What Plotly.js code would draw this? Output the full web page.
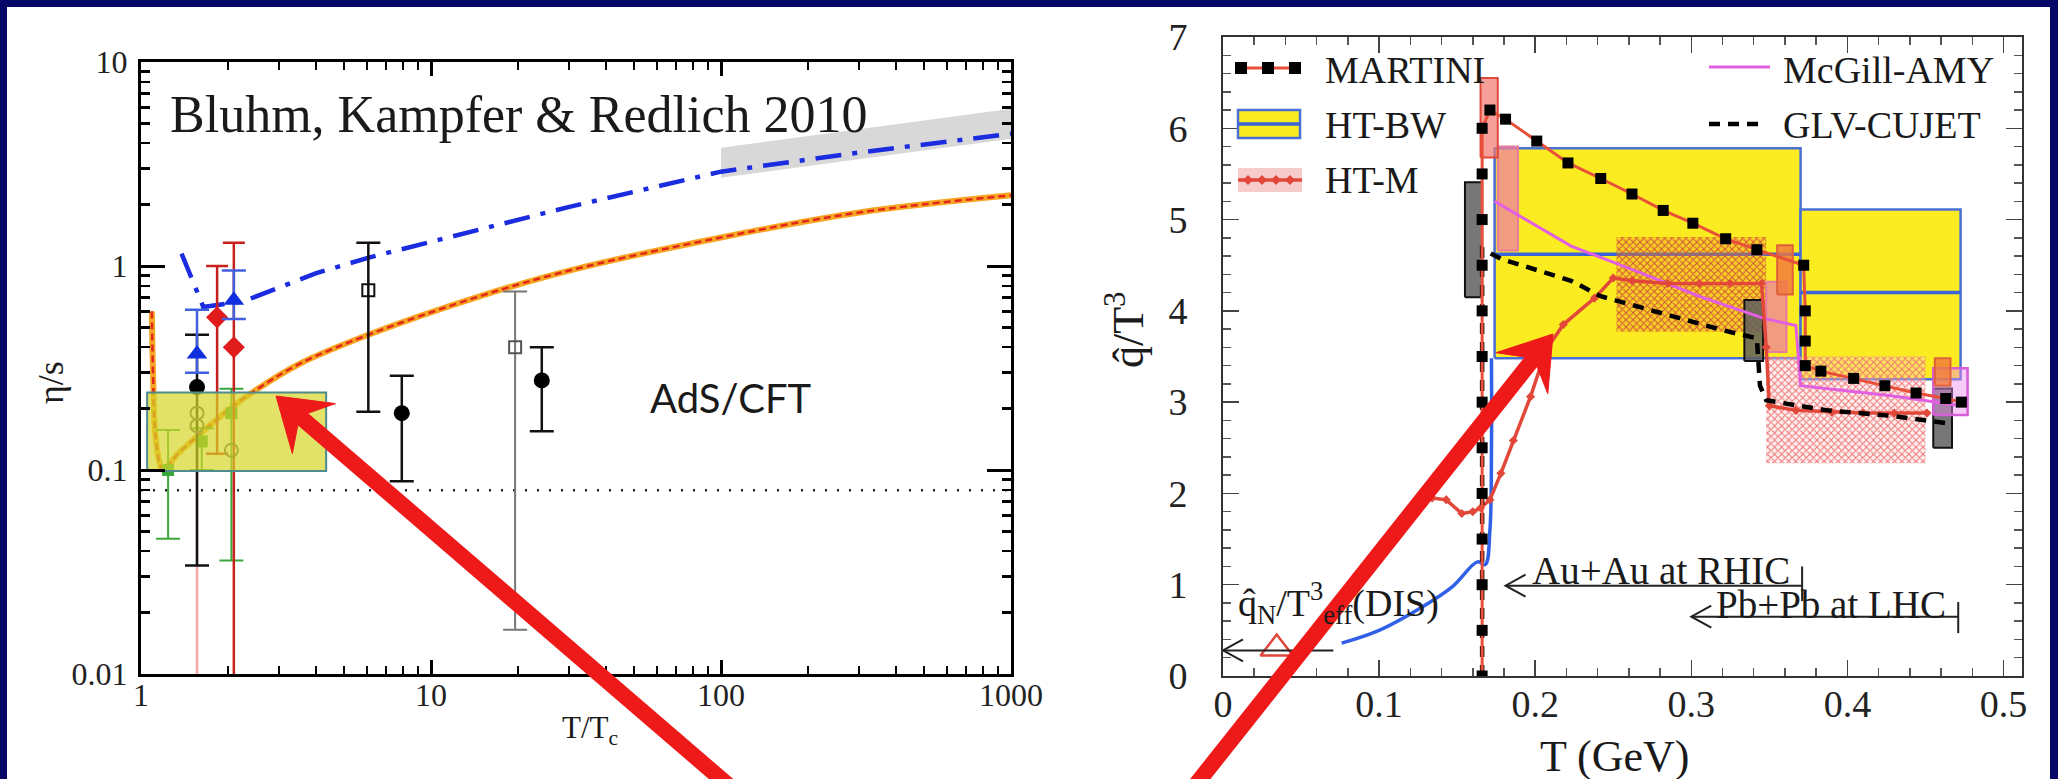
<!DOCTYPE html>
<html>
<head>
<meta charset="utf-8">
<script src="https://cdn.plot.ly/plotly-3.0.1.min.js"></script>
<style>
  html, body { margin: 0; padding: 0; background: #ffffff; }
  #chart { width: 2058px; height: 779px; }
</style>
</head>
<body>
<div id="chart"></div>
<script>
// ---------------- left panel: eta/s versus T/Tc ----------------
const ratioTicks = [1, 10, 100, 1000];
const ratioTickText = ['1', '10', '100', '1000'];
const etasTicks = [0.01, 0.1, 1, 10];
const etasTickText = ['0.01', '0.1', '1', '10'];

// quasi-particle model curve
const bkrT = [1.09, 1.10, 1.12, 1.16, 1.19, 1.34, 1.56, 2.03, 2.44, 3.5, 6.08, 14.7, 30, 100, 300, 1000];
const bkrEtas = [0.60, 0.30, 0.15, 0.108, 0.100, 0.120, 0.146, 0.200, 0.242, 0.33, 0.46, 0.71, 0.95, 1.38, 1.83, 2.22];

// perturbative estimate (dash-dot)
const pqcdT = [1.38, 1.64, 2.25, 4.0, 6.1, 14.4, 30, 100, 300, 1000];
const pqcdEtas = [1.15, 0.63, 0.67, 0.92, 1.1, 1.5, 1.95, 2.9, 3.6, 4.45];

// grey band at high temperature
const bandT = [100, 1000];
const bandLow = [2.71, 4.2];
const bandHigh = [3.8, 5.9];

// KSS bound 1/(4 pi)
const kssBound = 0.0796;

// AdS/CFT inspired region
const adsT = [1.05, 4.35];
const adsEtas = [0.099, 0.24];

// lattice / model points with error bars
const blackT = [1.56, 7.93, 24.1];
const blackEtas = [0.255, 0.19, 0.275];
const blackHi = [0.46, 0.29, 0.40];
const blackLo = [0.034, 0.088, 0.155];

const squareT = [6.08];
const squareEtas = [0.76];
const squareHi = [1.3];
const squareLo = [0.193];

const greySquareT = [19.5];
const greySquareEtas = [0.40];
const greySquareHi = [0.75];
const greySquareLo = [0.0165];

const triT = [1.56, 2.09];
const triEtas = [0.37, 0.68];
const triHi = [0.61, 0.95];
const triLo = [0.30, 0.55];

const diamondT = [1.83, 2.09];
const diamondEtas = [0.56, 0.40];
const diamondHi = [1.0, 1.3];
const diamondLo = [0.12, 0.005];

const greenT = [1.24, 1.62, 2.05];
const greenEtas = [0.10, 0.138, 0.19];
const greenHi = [0.157, 0.16, 0.25];
const greenLo = [0.046, 0.10, 0.036];

const openCircT = [1.56, 1.56, 2.05];
const openCircEtas = [0.19, 0.165, 0.125];

const pinkT = [1.56];
const pinkEtas = [0.2];
const pinkLo = [0.005];

// ---------------- right panel: qhat/T^3 versus T ----------------
const tempTicks = [0, 0.1, 0.2, 0.3, 0.4, 0.5];
const qTicks = [0, 1, 2, 3, 4, 5, 6, 7];

const martiniT = [0.166, 0.166, 0.166, 0.166, 0.166, 0.166, 0.166, 0.166, 0.166, 0.166, 0.166, 0.166, 0.166,
  0.171, 0.181, 0.201, 0.221, 0.242, 0.262, 0.282, 0.301, 0.322, 0.342, 0.372, 0.373, 0.373, 0.373,
  0.383, 0.404, 0.424, 0.444, 0.463, 0.473];
const martiniQ = [0, 0.5, 1.0, 1.5, 2.0, 2.5, 3.0, 3.5, 4.0, 4.5, 5.0, 5.5, 6.0,
  6.2, 6.1, 5.86, 5.62, 5.45, 5.28, 5.1, 4.96, 4.79, 4.67, 4.5, 4.0, 3.67, 3.4,
  3.34, 3.26, 3.18, 3.10, 3.04, 3.0];

const glvT = [0.166, 0.166, 0.178, 0.223, 0.242, 0.285, 0.322, 0.342, 0.344, 0.348, 0.387, 0.428, 0.463];
const glvQ = [0, 4.68, 4.57, 4.33, 4.16, 3.95, 3.78, 3.70, 3.18, 3.02, 2.91, 2.85, 2.77];

const amyT = [0.174, 0.182, 0.223, 0.264, 0.305, 0.346, 0.367, 0.370, 0.387, 0.428, 0.473];
const amyQ = [5.2, 5.12, 4.71, 4.44, 4.16, 3.92, 3.84, 3.18, 3.15, 3.07, 2.96];

const htmT = [0.134, 0.143, 0.153, 0.160, 0.165, 0.171, 0.178, 0.186, 0.197, 0.207, 0.218, 0.238, 0.250,
  0.262, 0.285, 0.305, 0.325, 0.345, 0.348, 0.350, 0.367, 0.39, 0.41, 0.43, 0.451];
const htmQ = [1.95, 1.93, 1.78, 1.80, 1.84, 1.93, 2.22, 2.58, 3.06, 3.57, 3.85, 4.14, 4.36,
  4.33, 4.30, 4.30, 4.30, 4.30, 3.60, 2.96, 2.91, 2.89, 2.88, 2.88, 2.88];

const htbwCurveT = [0.076, 0.100, 0.126, 0.147, 0.163, 0.168, 0.171, 0.172, 0.172];
const htbwCurveQ = [0.36, 0.50, 0.74, 0.98, 1.25, 1.22, 1.6, 2.5, 3.48];

// HT-BW bands (RHIC, LHC)
const htbwTlo = [0.174, 0.370];
const htbwThi = [0.370, 0.4725];
const htbwLow = [3.48, 3.25];
const htbwMid = [4.62, 4.20];
const htbwHigh = [5.78, 5.11];

// HT-M bands (RHIC, LHC)
const htmBandTlo = [0.252, 0.348];
const htmBandThi = [0.348, 0.450];
const htmBandLow = [3.77, 2.33];
const htmBandHigh = [4.81, 3.50];

// uncertainty boxes at the fit temperatures
const martiniBoxTlo = [0.165, 0.355, 0.456];
const martiniBoxThi = [0.176, 0.365, 0.466];
const martiniBoxLow = [5.68, 4.18, 3.18];
const martiniBoxHigh = [6.55, 4.72, 3.48];

const amyBoxTlo = [0.176, 0.348, 0.455];
const amyBoxThi = [0.189, 0.361, 0.477];
const amyBoxLow = [4.66, 3.55, 2.86];
const amyBoxHigh = [5.80, 4.32, 3.37];

const glvBoxTlo = [0.155, 0.334, 0.455];
const glvBoxThi = [0.166, 0.346, 0.467];
const glvBoxLow = [4.15, 3.45, 2.50];
const glvBoxHigh = [5.41, 4.12, 3.15];

// DIS reference point
const disT = [0.0344];
const disQ = [0.30];

// temperature reach of the two colliders and of DIS
const disRange = [0.0, 0.0707];
const rhicRange = [0.181, 0.371];
const lhcRange = [0.300, 0.471];

// ---------------- helpers ----------------
const W = 2058, H = 779;
const px = v => v / W;
const py = v => 1 - v / H;
const SERIF = 'Liberation Serif, Times New Roman, serif';

function rectPath(x0, x1, y0, y1) {
  return { x: [x0, x1, x1, x0, x0], y: [y0, y0, y1, y1, y0] };
}

const traces = [];
function addBox(x0, x1, y0, y1, opts, ax) {
  const r = rectPath(x0, x1, y0, y1);
  traces.push(Object.assign({
    x: r.x, y: r.y, mode: 'lines', fill: 'toself',
    xaxis: ax[0], yaxis: ax[1], hoverinfo: 'skip', showlegend: false
  }, opts));
}
function hiLo(vals, hi, lo) {
  return {
    type: 'data', symmetric: false,
    array: vals.map((v, i) => hi[i] - v),
    arrayminus: vals.map((v, i) => v - lo[i])
  };
}

const L = ['x', 'y'], R = ['x2', 'y2'];

// ---- left panel traces ----
traces.push({
  x: [bandT[0], bandT[1], bandT[1], bandT[0], bandT[0]],
  y: [bandLow[0], bandLow[1], bandHigh[1], bandHigh[0], bandLow[0]],
  mode: 'lines', fill: 'toself', fillcolor: '#d8d8d8', line: { width: 0 },
  xaxis: 'x', yaxis: 'y', hoverinfo: 'skip', showlegend: false
});
traces.push({
  x: [ratioTicks[0], ratioTicks[3]], y: [kssBound, kssBound], mode: 'lines',
  line: { color: '#222', width: 2.5, dash: '2px,10px' }, xaxis: 'x', yaxis: 'y', showlegend: false
});
traces.push({
  x: pqcdT, y: pqcdEtas, mode: 'lines', line: { color: '#1a2be0', width: 4.5, dash: '26px,11px,5px,11px' },
  xaxis: 'x', yaxis: 'y', showlegend: false
});
traces.push({
  x: bkrT, y: bkrEtas, mode: 'lines', line: { color: '#f6a623', width: 6, shape: 'spline' },
  xaxis: 'x', yaxis: 'y', showlegend: false
});
traces.push({
  x: bkrT, y: bkrEtas, mode: 'lines', line: { color: '#e3261c', width: 2.5, dash: '7px,4px', shape: 'spline' },
  xaxis: 'x', yaxis: 'y', showlegend: false
});
// error-bar points
traces.push({
  x: pinkT, y: pinkEtas, mode: 'markers', marker: { size: 1, color: '#f2a0a0' },
  error_y: Object.assign(hiLo(pinkEtas, pinkEtas, pinkLo), { color: '#f2a6a6', thickness: 2.5, width: 0 }),
  xaxis: 'x', yaxis: 'y', showlegend: false
});
traces.push({
  x: greenT, y: greenEtas, mode: 'markers',
  marker: { symbol: 'square', size: 12, color: '#3aa83a' },
  error_y: Object.assign(hiLo(greenEtas, greenHi, greenLo), { color: '#3aa83a', thickness: 2, width: 12 }),
  xaxis: 'x', yaxis: 'y', showlegend: false
});
traces.push({
  x: diamondT, y: diamondEtas, mode: 'markers',
  marker: { symbol: 'diamond', size: 17, color: '#e01b1b' },
  error_y: Object.assign(hiLo(diamondEtas, diamondHi, diamondLo), { color: '#c8201c', thickness: 2.5, width: 11 }),
  xaxis: 'x', yaxis: 'y', showlegend: false
});
traces.push({
  x: blackT, y: blackEtas, mode: 'markers',
  marker: { symbol: 'circle', size: 16, color: '#000' },
  error_y: Object.assign(hiLo(blackEtas, blackHi, blackLo), { color: '#111', thickness: 2.5, width: 12 }),
  xaxis: 'x', yaxis: 'y', showlegend: false
});
traces.push({
  x: triT, y: triEtas, mode: 'markers',
  marker: { symbol: 'triangle-up', size: 18, color: '#1030e0' },
  error_y: Object.assign(hiLo(triEtas, triHi, triLo), { color: '#4060e0', thickness: 2.5, width: 12 }),
  xaxis: 'x', yaxis: 'y', showlegend: false
});
traces.push({
  x: squareT, y: squareEtas, mode: 'markers',
  marker: { symbol: 'square-open', size: 12, color: '#111', line: { width: 2 } },
  error_y: Object.assign(hiLo(squareEtas, squareHi, squareLo), { color: '#111', thickness: 2.5, width: 12 }),
  xaxis: 'x', yaxis: 'y', showlegend: false
});
traces.push({
  x: greySquareT, y: greySquareEtas, mode: 'markers',
  marker: { symbol: 'square-open', size: 12, color: '#555', line: { width: 2 } },
  error_y: Object.assign(hiLo(greySquareEtas, greySquareHi, greySquareLo), { color: '#777', thickness: 2, width: 12 }),
  xaxis: 'x', yaxis: 'y', showlegend: false
});
traces.push({
  x: openCircT, y: openCircEtas, mode: 'markers',
  marker: { symbol: 'circle-open', size: 13, color: '#555', line: { width: 2 } },
  xaxis: 'x', yaxis: 'y', showlegend: false
});
// translucent AdS/CFT window on top
addBox(adsT[0], adsT[1], adsEtas[0], adsEtas[1],
  { fillcolor: 'rgba(214,214,40,0.70)', line: { color: '#4f8a8c', width: 2 } }, L);

// ---- right panel traces ----
for (let i = 0; i < htbwTlo.length; i++) {
  addBox(htbwTlo[i], htbwThi[i], htbwLow[i], htbwHigh[i],
    { fillcolor: '#fbec22', line: { color: '#4a6fd6', width: 2.5 } }, R);
}
for (let i = 0; i < htbwTlo.length; i++) {
  traces.push({
    x: [htbwTlo[i], htbwThi[i]], y: [htbwMid[i], htbwMid[i]], mode: 'lines',
    line: { color: '#3d63d8', width: 3.5 }, xaxis: 'x2', yaxis: 'y2', showlegend: false
  });
}
for (let i = 0; i < htmBandTlo.length; i++) {
  addBox(htmBandTlo[i], htmBandThi[i], htmBandLow[i], htmBandHigh[i], {
    fillcolor: 'rgba(0,0,0,0)', line: { width: 0 },
    fillpattern: { shape: 'x', fgcolor: i === 0 ? '#d0503a' : '#ee7070', bgcolor: i === 0 ? 'rgba(240,150,40,0.35)' : 'rgba(255,205,205,0.35)', size: 5, solidity: 0.35 }
  }, R);
}
for (let i = 0; i < glvBoxTlo.length; i++) {
  addBox(glvBoxTlo[i], glvBoxThi[i], glvBoxLow[i], glvBoxHigh[i],
    { fillcolor: 'rgba(95,95,95,0.85)', line: { color: '#111', width: 2 } }, R);
}
for (let i = 0; i < amyBoxTlo.length; i++) {
  addBox(amyBoxTlo[i], amyBoxThi[i], amyBoxLow[i], amyBoxHigh[i], i < 2
    ? { fillcolor: 'rgba(238,130,160,0.75)', line: { color: '#e87aa0', width: 2 } }
    : { fillcolor: 'rgba(235,140,235,0.45)', line: { color: '#d85ed8', width: 2.5 } }, R);
}
for (let i = 0; i < martiniBoxTlo.length; i++) {
  addBox(martiniBoxTlo[i], martiniBoxThi[i], martiniBoxLow[i], martiniBoxHigh[i], i === 0
    ? { fillcolor: 'rgba(242,120,110,0.7)', line: { color: '#e0483a', width: 2 } }
    : { fillcolor: 'rgba(240,120,60,0.8)', line: { color: '#e0603a', width: 2 } }, R);
}
traces.push({
  x: htbwCurveT, y: htbwCurveQ, mode: 'lines', line: { color: '#3060e8', width: 3.5, shape: 'spline' },
  xaxis: 'x2', yaxis: 'y2', showlegend: false
});
traces.push({
  x: amyT, y: amyQ, mode: 'lines', line: { color: '#e25fe2', width: 3 },
  xaxis: 'x2', yaxis: 'y2', showlegend: false
});
traces.push({
  x: htmT, y: htmQ, mode: 'lines+markers', line: { color: '#e2483a', width: 3.5 },
  marker: { symbol: 'diamond', size: 7, color: '#e2483a' },
  xaxis: 'x2', yaxis: 'y2', showlegend: false
});
traces.push({
  x: glvT, y: glvQ, mode: 'lines', line: { color: '#000', width: 4.5, dash: '11px,8px' },
  xaxis: 'x2', yaxis: 'y2', showlegend: false
});
traces.push({
  x: martiniT, y: martiniQ, mode: 'lines+markers', line: { color: '#e8503a', width: 3 },
  marker: { symbol: 'square', size: 11, color: '#000' },
  xaxis: 'x2', yaxis: 'y2', showlegend: false
});
traces.push({
  x: disT, y: disQ, mode: 'markers',
  marker: { symbol: 'triangle-up-open', size: 28, color: '#e0453a', line: { width: 2.5 } },
  xaxis: 'x2', yaxis: 'y2', showlegend: false
});

// ---------------- decorations ----------------
const shapes = [];
// slide frame
shapes.push({ type: 'rect', xref: 'paper', yref: 'paper', x0: 0, x1: 1, y0: py(7), y1: 1, fillcolor: '#07076a', line: { width: 0 }, layer: 'above' });
shapes.push({ type: 'rect', xref: 'paper', yref: 'paper', x0: 0, x1: px(7), y0: 0, y1: 1, fillcolor: '#07076a', line: { width: 0 }, layer: 'above' });
shapes.push({ type: 'rect', xref: 'paper', yref: 'paper', x0: px(2050), x1: 1, y0: 0, y1: 1, fillcolor: '#07076a', line: { width: 0 }, layer: 'above' });

// range arrows in the right panel (open head on the low-T side, bar on the high-T side)
function rangeArrow(range, q, barLo, barHi) {
  shapes.push({ type: 'line', xref: 'x2', yref: 'y2', x0: range[0], x1: range[1], y0: q, y1: q, line: { color: '#222', width: 2 } });
  const dx = 20 / 1561, dq = 11 / 91.3;
  shapes.push({ type: 'path', xref: 'x2', yref: 'y2',
    path: `M ${range[0] + dx} ${q + dq} L ${range[0]} ${q} L ${range[0] + dx} ${q - dq}`,
    line: { color: '#222', width: 2 } });
  if (barLo !== null) {
    shapes.push({ type: 'line', xref: 'x2', yref: 'y2', x0: range[1], x1: range[1], y0: barLo, y1: barHi, line: { color: '#222', width: 2 } });
  }
}
rangeArrow(disRange, 0.28, null, null);
rangeArrow(rhicRange, 0.99, 0.82, 1.20);
rangeArrow(lhcRange, 0.65, 0.47, 0.81);

// legend swatches
shapes.push({ type: 'line', xref: 'paper', yref: 'paper', x0: px(1237), x1: px(1298), y0: py(68), y1: py(68), line: { color: '#e8503a', width: 3 } });
[1241, 1268, 1295].forEach(c => shapes.push({ type: 'rect', xref: 'paper', yref: 'paper', x0: px(c - 6), x1: px(c + 6), y0: py(74), y1: py(62), fillcolor: '#000', line: { width: 0 } }));
shapes.push({ type: 'rect', xref: 'paper', yref: 'paper', x0: px(1238), x1: px(1300), y0: py(138), y1: py(110), fillcolor: '#fbec22', line: { color: '#4a6fd6', width: 2.5 } });
shapes.push({ type: 'line', xref: 'paper', yref: 'paper', x0: px(1238), x1: px(1300), y0: py(124), y1: py(124), line: { color: '#3d63d8', width: 3.5 } });
shapes.push({ type: 'rect', xref: 'paper', yref: 'paper', x0: px(1238), x1: px(1302), y0: py(192), y1: py(168), fillcolor: 'rgba(240,140,140,0.45)', line: { width: 0 } });
shapes.push({ type: 'line', xref: 'paper', yref: 'paper', x0: px(1238), x1: px(1302), y0: py(180), y1: py(180), line: { color: '#e2483a', width: 3.5 } });
[1248, 1262, 1276, 1290].forEach(c => shapes.push({ type: 'path', xref: 'paper', yref: 'paper',
  path: `M ${px(c - 5)} ${py(180)} L ${px(c)} ${py(175)} L ${px(c + 5)} ${py(180)} L ${px(c)} ${py(185)} Z`,
  fillcolor: '#e2483a', line: { width: 0 } }));
shapes.push({ type: 'line', xref: 'paper', yref: 'paper', x0: px(1709), x1: px(1770), y0: py(67), y1: py(67), line: { color: '#e25fe2', width: 3 } });
shapes.push({ type: 'line', xref: 'paper', yref: 'paper', x0: px(1709), x1: px(1762), y0: py(124), y1: py(124), line: { color: '#000', width: 4.5, dash: '11px,8px' } });

// big red pointer arrows
function pointer(tail, tip) {
  const dx = tip[0] - tail[0], dy = tip[1] - tail[1];
  const len = Math.hypot(dx, dy), ux = dx / len, uy = dy / len, nx = -uy, ny = ux;
  const headLen = 50, half = 33, shaftW = 16;
  const bx = tip[0] - ux * headLen, by = tip[1] - uy * headLen;
  const sx = tip[0] - ux * headLen * 0.62, sy = tip[1] - uy * headLen * 0.62;
  shapes.push({ type: 'line', xref: 'paper', yref: 'paper', x0: px(tail[0]), y0: py(tail[1]), x1: px(sx), y1: py(sy),
    line: { color: '#ee1a1a', width: shaftW }, layer: 'above' });
  shapes.push({ type: 'path', xref: 'paper', yref: 'paper', layer: 'above',
    path: `M ${px(tip[0])} ${py(tip[1])} L ${px(bx + nx * half)} ${py(by + ny * half)} L ${px(sx)} ${py(sy)} L ${px(bx - nx * half)} ${py(by - ny * half)} Z`,
    fillcolor: '#ee1a1a', line: { color: '#ee1a1a', width: 1 } });
}
pointer([735, 791], [276, 396]);
pointer([1190, 792], [1553, 334]);

// ---------------- text ----------------
const txt = (x, y, text, size, extra) => Object.assign({
  xref: 'paper', yref: 'paper', x: px(x), y: py(y), text: text, showarrow: false,
  font: { family: SERIF, size: size, color: '#1a1a1a' }, xanchor: 'left', yanchor: 'middle'
}, extra || {});

const annotations = [
  txt(168, 114, 'Bluhm, Kampfer &amp; Redlich 2010', 52),
  txt(731, 398, 'AdS/CFT', 40, { xanchor: 'center', font: { family: 'Lato, sans-serif', size: 40, color: '#1a1a1a' } }),
  txt(51, 383, 'η/s', 36, { xanchor: 'center', textangle: -90 }),
  txt(590, 730, 'T/T<sub>c</sub>', 31, { xanchor: 'center' }),
  txt(1125, 330, 'q̂/T<sup>3</sup>', 44, { xanchor: 'center', textangle: -90 }),
  txt(1614, 756, 'T (GeV)', 44, { xanchor: 'center' }),
  txt(1323, 70, 'MARTINI', 38),
  txt(1323, 125, 'HT-BW', 38),
  txt(1323, 180, 'HT-M', 38),
  txt(1781, 70, 'McGill-AMY', 38),
  txt(1781, 125, 'GLV-CUJET', 38),
  txt(1236, 603, 'q̂<sub>N</sub>/T<sup>3</sup><sub>eff</sub>(DIS)', 38),
  txt(1530, 570, 'Au+Au at RHIC', 39),
  txt(1714, 604, 'Pb+Pb at LHC', 39)
];

// ---------------- axes ----------------
function minorLog(lo, hi) {
  const v = [];
  for (let e = lo; e < hi; e++) for (let m = 2; m <= 9; m++) v.push(m * Math.pow(10, e));
  return v;
}
const leftAxisCommon = {
  type: 'log', showgrid: false, zeroline: false, showline: true, linecolor: '#000', linewidth: 3,
  mirror: 'allticks', ticks: 'inside', tickcolor: '#000', tickwidth: 3,
  tickfont: { family: SERIF, size: 32, color: '#222' }, tickmode: 'array'
};
const rightAxisCommon = {
  showgrid: false, zeroline: false, showline: true, linecolor: '#333', linewidth: 2,
  mirror: 'allticks', ticks: 'inside', tickcolor: '#444', tickwidth: 1.5, ticklen: 16,
  tickfont: { family: SERIF, size: 38, color: '#222' }, tickmode: 'array'
};

const layout = {
  width: W, height: H,
  margin: { l: 0, r: 0, t: 0, b: 0 },
  paper_bgcolor: '#ffffff', plot_bgcolor: 'rgba(0,0,0,0)',
  showlegend: false, hovermode: false,
  xaxis: Object.assign({}, leftAxisCommon, {
    domain: [px(141), px(1011)], range: [0, 3], anchor: 'y',
    tickvals: ratioTicks, ticktext: ratioTickText, ticklen: 14, ticklabelstandoff: -9,
    minor: { tickvals: minorLog(0, 3), ticks: 'inside', ticklen: 8, tickwidth: 2, tickcolor: '#000' }
  }),
  yaxis: Object.assign({}, leftAxisCommon, {
    domain: [py(674), py(62)], range: [-2, 1], anchor: 'x',
    tickvals: etasTicks, ticktext: etasTickText, ticklen: 24, ticklabelstandoff: 4,
    minor: { tickvals: minorLog(-2, 1), ticks: 'inside', ticklen: 9, tickwidth: 2.5, tickcolor: '#000' }
  }),
  xaxis2: Object.assign({}, rightAxisCommon, {
    domain: [px(1223), px(2022)], range: [0, 799 / 1561], anchor: 'y2',
    tickvals: tempTicks, ticktext: tempTicks.map(String), ticklabelstandoff: -7,
    minor: { dtick: 0.02, tick0: 0, ticks: 'inside', ticklen: 8, tickwidth: 1.5, tickcolor: '#555' }
  }),
  yaxis2: Object.assign({}, rightAxisCommon, {
    domain: [py(676), py(37)], range: [0, 7], anchor: 'x2',
    tickvals: qTicks, ticktext: qTicks.map(String), ticklabelstandoff: 26,
    minor: { dtick: 0.2, tick0: 0, ticks: 'inside', ticklen: 8, tickwidth: 1.5, tickcolor: '#555' }
  }),
  shapes: shapes,
  annotations: annotations
};

Plotly.newPlot('chart', traces, layout, { staticPlot: true, displayModeBar: false });
</script>
</body>
</html>
